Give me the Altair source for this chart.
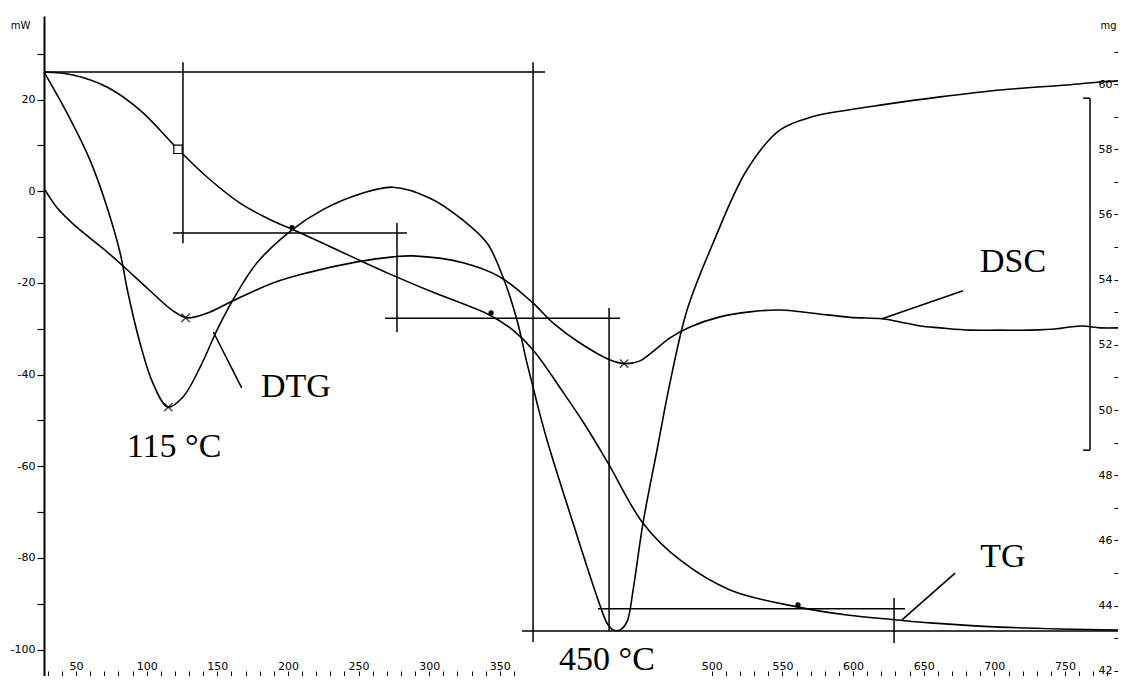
import altair as alt
import pandas as pd

# ---------------- data ----------------
# DTG curve (temperature °C, drawn against the mW scale)
dtg_T = [27.4, 43.6, 59.9, 71.9, 81.2, 86.8, 95.3, 104.5, 115.1, 125.7, 137.8, 149.8,
         161.1, 178.1, 202.9, 224.8, 248.9, 274.4, 300.6, 323.9, 340.9, 352.2, 362.1,
         369.2, 376.3, 383.4, 401.8, 418.8, 425.8, 430.1, 435.1, 440.0, 444.3, 451.3,
         461.2, 470.4, 482.5, 500.9, 524.9, 548.3, 571.7, 595.7, 619.1, 661.6, 704.0,
         751.4, 772.7, 787.5]
dtg_mW = [26.0, 17.1, 6.8, -3.4, -13.4, -22.2, -33.1, -41.9, -47.1, -44.9, -38.4, -30.3,
          -23.7, -15.6, -8.4, -4.0, -0.8, 0.9, -1.5, -6.3, -11.3, -18.7, -28.1,
          -37.5, -46.2, -54.3, -72.4, -88.5, -94.2, -95.7, -95.7, -93.9, -87.0, -72.4,
          -56.5, -41.8, -25.9, -11.3, 4.7, 13.4, 16.3, 17.7, 18.8, 20.6, 22.1,
          23.2, 23.8, 24.1]

# DSC curve (mW)
dsc_T = [28.1, 36.6, 47.9, 59.9, 71.9, 83.3, 102.4, 118.7, 128.6, 142.7, 159.0, 189.4,
         213.5, 248.9, 274.4, 288.5, 323.9, 350.1, 373.5, 387.6, 406.7, 428.0, 438.6,
         449.2, 459.8, 470.4, 484.6, 505.8, 527.0, 548.3, 571.7, 597.8, 620.5, 633.2,
         647.4, 661.6, 682.8, 704.0, 725.3, 744.4, 753.6, 762.8, 774.8, 787.5]
dsc_mW = [0.3, -3.6, -7.1, -10.2, -13.2, -16.3, -21.7, -26.1, -27.6, -26.6, -24.2, -20.0,
          -17.8, -15.4, -14.3, -14.1, -15.6, -18.7, -24.4, -28.7, -33.1, -36.8, -37.6,
          -37.0, -34.6, -32.0, -29.6, -27.4, -26.3, -25.9, -26.6, -27.5, -27.8, -28.5,
          -29.4, -29.8, -30.3, -30.3, -30.3, -30.0, -29.6, -29.4, -29.8, -29.8]

# TG curve (mg)
tg_T = [27.4, 47.9, 71.9, 95.3, 122.2, 142.7, 166.1, 189.4, 202.9, 224.8, 248.9, 272.3,
        300.6, 343.0, 359.3, 373.5, 394.7, 410.3, 426.6, 451.3, 477.5, 512.9, 560.3,
        595.7, 631.1, 654.5, 704.0, 787.5]
tg_mg = [60.37, 60.28, 59.91, 59.20, 58.00, 57.15, 56.35, 55.80, 55.55, 55.12, 54.63, 54.17,
         53.65, 52.91, 52.45, 51.84, 50.55, 49.54, 48.37, 46.53, 45.40, 44.48, 43.96,
         43.71, 43.56, 43.47, 43.34, 43.25]

# peak markers (x) on DTG / DSC, mW
peak_T = [115.3, 127.6, 437.9]
peak_mW = [-47.1, -27.6, -37.6]

# step markers on TG, mg
square_T = [122.2]
square_mg = [58.0]
dot_T = [202.9, 343.8, 561.0]
dot_mg = [55.6, 52.98, 44.02]

# step-analysis guide segments (temperature, mg)
seg_T1 = [27.35, 125.7, 118.7, 277.2, 268.7, 427.3, 373.5, 419.5, 629.0, 365.7, 767.7, 762.8, 762.8]
seg_mg1 = [60.37, 60.67, 55.43, 55.74, 52.82, 53.13, 60.67, 43.90, 44.23, 43.22, 59.57, 59.57, 48.77]
seg_T2 = [382.0, 125.7, 284.3, 277.2, 435.0, 427.3, 373.5, 636.8, 629.0, 787.5, 767.7, 767.7, 767.7]
seg_mg2 = [60.37, 55.12, 55.43, 52.39, 52.82, 43.22, 42.88, 43.90, 42.85, 43.22, 48.77, 59.57, 48.77]

# label pointer lines (temperature, mW)
ptr_T1 = [147.2, 620.5, 634.6]
ptr_mW1 = [-30.7, -27.8, -93.5]
ptr_T2 = [167.3, 677.8, 672.2]
ptr_mW2 = [-42.9, -21.7, -83.3]

# annotations
ann_text = ["DTG", "DSC", "TG", "115 °C", "450 °C"]
ann_T = [205.7, 713.2, 706.1, 119.4, 425.8]
ann_mW = [-42.7, -15.4, -79.8, -55.8, -102.2]

# axis ticks
x_ticks = list(range(30, 370, 10)) + list(range(500, 790, 10))
mw_ticks = list(range(30, -101, -10))
mg_ticks = list(range(42, 62))

# ---------------- chart ----------------
W, H = 1074, 660

x_scale = alt.Scale(domain=[27.35, 787.5], nice=False, zero=False)
mw_scale = alt.Scale(domain=[-105.76, 38.25], nice=False, zero=False)
mg_scale = alt.Scale(domain=[41.84, 62.09], nice=False, zero=False)

lab = dict(labelFont="DejaVu Sans", labelFontSize=11, labelColor="black",
           tickColor="black", grid=False, labelOverlap=False, labelFlush=False)

x_axis = alt.Axis(orient="top", offset=-H, values=x_ticks,
                  labelExpr="datum.value % 50 === 0 ? '' + datum.value : ''",
                  title=None, domain=False, tickSize=5, tickWidth=1,
                  labelPadding=0, **lab)
mw_axis = alt.Axis(orient="left", values=mw_ticks,
                   labelExpr="datum.value % 20 === 0 ? '' + datum.value : ''",
                   title="mW", titleAngle=0, titleX=-24, titleY=9,
                   titleAlign="center", titleBaseline="middle",
                   titleFont="DejaVu Sans", titleFontSize=10,
                   titleFontWeight="normal", titleColor="black",
                   domainColor="black", domainWidth=2, tickSize=7, tickWidth=1.2,
                   labelPadding=2, **lab)
mg_axis = alt.Axis(orient="left", offset=-W, values=mg_ticks,
                   labelExpr="datum.value % 2 === 0 ? '' + datum.value : ''",
                   title="mg", titleAngle=0, titleX=-10, titleY=9,
                   titleAlign="center", titleBaseline="middle",
                   titleFont="DejaVu Sans", titleFontSize=10,
                   titleFontWeight="normal", titleColor="black",
                   domain=False, tickSize=4, tickWidth=1, labelPadding=2, **lab)

X = alt.X("T:Q", scale=x_scale, axis=x_axis)
Ymw = alt.Y("mW:Q", scale=mw_scale, axis=mw_axis)
Ymg = alt.Y("mg:Q", scale=mg_scale, axis=mg_axis)

dtg_df = pd.DataFrame({"T": dtg_T, "mW": dtg_mW})
dsc_df = pd.DataFrame({"T": dsc_T, "mW": dsc_mW})
tg_df = pd.DataFrame({"T": tg_T, "mg": tg_mg})
peak_df = pd.DataFrame({"T": peak_T, "mW": peak_mW})
sq_df = pd.DataFrame({"T": square_T, "mg": square_mg})
dot_df = pd.DataFrame({"T": dot_T, "mg": dot_mg})
seg_df = pd.DataFrame({"T": seg_T1, "mg": seg_mg1, "T2": seg_T2, "mg2": seg_mg2})
ptr_df = pd.DataFrame({"T": ptr_T1, "mW": ptr_mW1, "T2": ptr_T2, "mW2": ptr_mW2})
ann_df = pd.DataFrame({"T": ann_T, "mW": ann_mW, "label": ann_text})

line_style = dict(color="black", strokeWidth=1.6, interpolate="catmull-rom")

dtg = alt.Chart(dtg_df).mark_line(**line_style).encode(x=X, y=Ymw)
dsc = alt.Chart(dsc_df).mark_line(**line_style).encode(x=X, y=Ymw)
peaks = alt.Chart(peak_df).mark_point(
    shape="M-1,-1L1,1M-1,1L1,-1", size=70, filled=False, color="black", strokeWidth=1.5
).encode(x=X, y=Ymw)
ptrs = alt.Chart(ptr_df).mark_rule(color="black", strokeWidth=1.6).encode(
    x=X, x2="T2:Q", y=Ymw, y2="mW2:Q")
ann = alt.Chart(ann_df).mark_text(
    font="Liberation Serif", fontSize=34, color="black", align="center", baseline="middle"
).encode(x=X, y=Ymw, text="label:N")

layer_mw = alt.layer(dtg, dsc, peaks, ptrs, ann)

tg = alt.Chart(tg_df).mark_line(**line_style).encode(x=X, y=Ymg)
segs = alt.Chart(seg_df).mark_rule(color="black", strokeWidth=1.5).encode(
    x=X, x2="T2:Q", y=Ymg, y2="mg2:Q")
sq = alt.Chart(sq_df).mark_point(
    shape="square", size=70, filled=True, fill="white", stroke="black", strokeWidth=1.2,
    opacity=1
).encode(x=X, y=Ymg)
dots = alt.Chart(dot_df).mark_circle(size=28, color="black", opacity=1).encode(x=X, y=Ymg)

layer_mg = alt.layer(segs, tg, sq, dots)

chart = alt.layer(layer_mw, layer_mg).resolve_scale(y="independent").properties(
    width=W, height=H,
    autosize=alt.AutoSizeParams(type="none"),
    padding={"left": 36, "top": 8, "right": 0, "bottom": 0},
    background="white",
).configure_view(stroke="transparent")

chart.save("out.html", embed_options={"renderer": "svg", "actions": False})
